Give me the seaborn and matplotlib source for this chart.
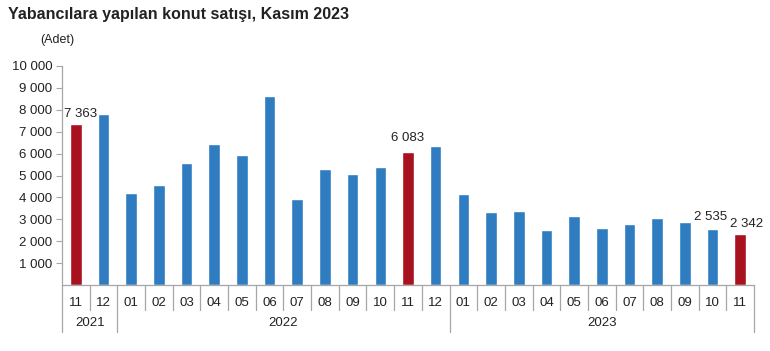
import matplotlib
matplotlib.use("Agg")
import matplotlib.pyplot as plt
import matplotlib.transforms as mtransforms
import seaborn as sns
import pandas as pd

# ---- data ----
years = ["2021"] * 2 + ["2022"] * 12 + ["2023"] * 11
months = ["11", "12",
          "01", "02", "03", "04", "05", "06", "07", "08", "09", "10", "11", "12",
          "01", "02", "03", "04", "05", "06", "07", "08", "09", "10", "11"]
values = [7363, 7810,
          4190, 4570, 5560, 6420, 5920, 8630, 3910, 5280, 5070, 5390, 6083, 6360,
          4140, 3320, 3380, 2510, 3160, 2620, 2790, 3060, 2890, 2535, 2342]
highlight = ["2021-11", "2022-11", "2023-11"]
labelled = {"2021-11": "7 363", "2022-11": "6 083", "2023-10": "2 535", "2023-11": "2 342"}
year_labels = ["2021", "2022", "2023"]

BLUE = "#2F7CC1"
RED = "#A8121F"
GRAY = "#A6A6A6"

sns.set_theme(style="white")
plt.rcParams["font.family"] = ["Liberation Sans", "DejaVu Sans"]

keys = [f"{y}-{m}" for y, m in zip(years, months)]
df = pd.DataFrame({"key": keys, "month": months, "year": years, "value": values})
df["kind"] = ["highlight" if k in highlight else "normal" for k in keys]

fig = plt.figure(figsize=(7.7, 3.51), dpi=100)
ax = fig.add_axes([62 / 770, (351 - 285) / 351, (754 - 62) / 770, (285 - 66) / 351])

sns.barplot(data=df, x="key", y="value", hue="kind", order=keys,
            palette={"normal": BLUE, "highlight": RED}, dodge=False,
            width=0.42, legend=False, ax=ax, saturation=1)

n = len(keys)
ax.set_xlim(-0.5, n - 0.5)
ax.set_ylim(0, 10000)
yt = list(range(1000, 10001, 1000))
ax.set_yticks(yt)
ax.set_yticklabels([f"{v:,}".replace(",", " ") for v in yt], fontsize=9.5, color="#222222")
ax.set_xticks(range(n))
ax.set_xticklabels(months, fontsize=9.5, color="#222222")
ax.tick_params(axis="x", length=0, pad=9)
ax.tick_params(axis="y", length=4, width=0.8, color=GRAY, direction="out", pad=3, left=True)
ax.set_xlabel("")
ax.set_ylabel("")
for s in ["top", "right"]:
    ax.spines[s].set_visible(False)
for s in ["left", "bottom"]:
    ax.spines[s].set_color(GRAY)
    ax.spines[s].set_linewidth(0.9)

# separators
trans = mtransforms.blended_transform_factory(ax.transData, ax.transAxes)
year_bounds = [-0.5]
for i in range(1, n):
    if years[i] != years[i - 1]:
        year_bounds.append(i - 0.5)
year_bounds.append(n - 0.5)
for i in range(n + 1):
    xb = i - 0.5
    y0 = -0.215 if xb in year_bounds else -0.114
    ax.plot([xb, xb], [0, y0], transform=trans, color=GRAY, lw=0.9, clip_on=False)

for j, yl in enumerate(year_labels):
    cx = (year_bounds[j] + year_bounds[j + 1]) / 2
    ax.text(cx, -0.174, yl, transform=trans, ha="center", va="center",
            fontsize=9.5, color="#222222")

# value labels
offsets = {"2021-11": (5, 10), "2022-11": (0, 14), "2023-10": (-2, 12), "2023-11": (6, 10)}
for i, k in enumerate(keys):
    if k in labelled:
        dx, dy = offsets[k]
        ax.annotate(labelled[k], (i, values[i]), xytext=(dx, dy), textcoords="offset pixels",
                    ha="center", va="center", fontsize=9.5, color="#222222")

fig.text(8 / 770, 1 - 15 / 351, "Yabancılara yapılan konut satışı, Kasım 2023",
         fontsize=11.5, fontweight="bold", color="#222222", ha="left", va="center")
fig.text(40 / 770, 1 - 40 / 351, "(Adet)", fontsize=9, color="#222222", ha="left", va="center")

fig.savefig("out.png", dpi=100)
